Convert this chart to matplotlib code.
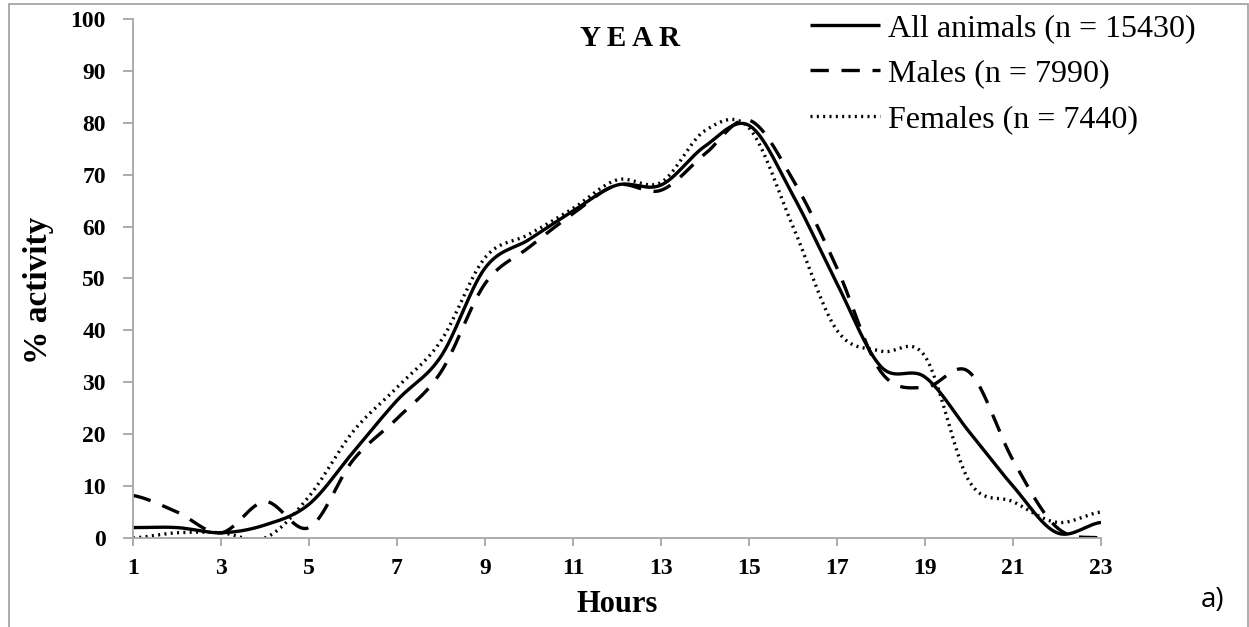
import numpy as np
import matplotlib.pyplot as plt
from matplotlib.patches import Rectangle

# hourly activity (%)
hours = np.arange(1, 24)
all_animals = [2, 2, 1, 2.5, 6.5, 16.5, 26.5, 35, 52, 57.5, 63, 68, 68, 75.5, 79.5, 66, 49, 33, 31, 20.5, 10, 1, 3]
males = [8.2, 5, 1, 7, 2, 15, 23, 32, 49, 56, 62.5, 68, 67, 74, 80.5, 69, 52, 32, 29, 32, 15, 2, 0]
females = [0, 1, 1, 0, 8, 20.5, 29, 38, 54, 58.5, 63.5, 69, 68.5, 78.5, 79, 60, 40, 36, 35, 11, 7, 3, 5]

series = [
    (all_animals, "-", "All animals (n = 15430)"),
    (males, (0, (5.5, 3.8)), "Males (n = 7990)"),
    (females, (0, (0.6, 1.3)), "Females (n = 7440)"),
]


def smooth(x, y, n=30):
    # excel-style smoothed line (catmull-rom through the points)
    x = np.asarray(x, float)
    y = np.asarray(y, float)
    px = np.concatenate([[2 * x[0] - x[1]], x, [2 * x[-1] - x[-2]]])
    py = np.concatenate([[y[0]], y, [y[-1]]])
    xs, ys = [], []
    t = np.linspace(0, 1, n, endpoint=False)
    for i in range(1, len(px) - 2):
        for arr, out in ((px, xs), (py, ys)):
            p0, p1, p2, p3 = arr[i - 1], arr[i], arr[i + 1], arr[i + 2]
            out.extend(0.5 * (2 * p1 + (-p0 + p2) * t
                              + (2 * p0 - 5 * p1 + 4 * p2 - p3) * t ** 2
                              + (-p0 + 3 * p1 - 3 * p2 + p3) * t ** 3))
    xs.append(x[-1])
    ys.append(y[-1])
    return np.array(xs), np.array(ys)


plt.rcParams['font.family'] = ['Liberation Serif', 'DejaVu Serif']

fig = plt.figure(figsize=(12.49, 6.27), dpi=100)
ax = fig.add_axes([0.1065, 0.142, 0.775, 0.8277])

for vals, ls, lab in series:
    sx, sy = smooth(hours, vals)
    ax.plot(sx, sy, color="black", linestyle=ls, linewidth=2.4,
            label=lab, solid_capstyle="butt")

ax.set_xlim(1, 23)
ax.set_ylim(0, 100)
ax.set_xticks(np.arange(1, 24, 2))
ax.set_yticks(np.arange(0, 101, 10))
for s in ["top", "right"]:
    ax.spines[s].set_visible(False)
for s in ["left", "bottom"]:
    ax.spines[s].set_color("#a6a6a6")
    ax.spines[s].set_linewidth(1.3)
ax.tick_params(axis="y", direction="out", color="#a6a6a6", width=1.3,
               length=7.5, labelsize=17, pad=12)
ax.tick_params(axis="x", direction="out", color="#a6a6a6", width=1.3,
               length=5.5, labelsize=17, pad=9)
for lbl in ax.get_xticklabels() + ax.get_yticklabels():
    lbl.set_fontweight("bold")
ax.set_xlabel("Hours", fontsize=22, fontweight="bold", labelpad=8)
ax.set_ylabel("% activity", fontsize=24, fontweight="bold")
ax.yaxis.set_label_coords(-0.082, 0.478)

fig.text(630 / 1249, 1 - 38 / 627, "Y\u2009E\u2009A\u2009R", fontsize=21,
         fontweight="bold", ha="center", va="center")

leg = fig.legend(loc="upper left", bbox_to_anchor=(797 / 1249, 1 - 1 / 627),
                 frameon=False, fontsize=23, handlelength=2.2,
                 handletextpad=0.25, labelspacing=0.5, borderaxespad=0)

fig.text(1213 / 1249, 1 - 600 / 627, "a)", fontsize=20, family="Open Sans",
         ha="center", va="center")

fig.patches.append(Rectangle((9 / 1249, -0.01), 1 - 10 / 1249, 1 - 4 / 627 + 0.01,
                             transform=fig.transFigure, fill=False,
                             edgecolor="#a6a6a6", linewidth=1.3))

fig.savefig("out.png", dpi=100)
